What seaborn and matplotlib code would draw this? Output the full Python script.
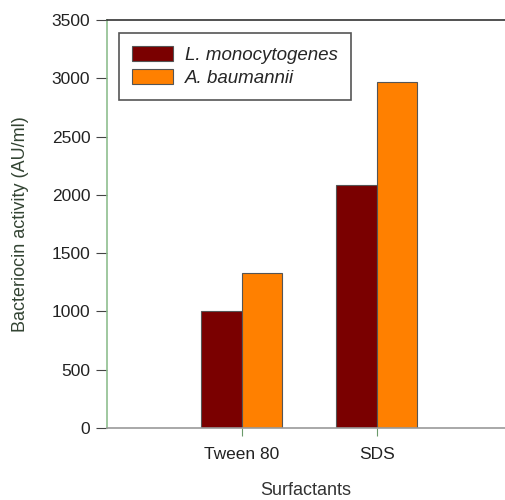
import pandas as pd
import seaborn as sns
import matplotlib.pyplot as plt

surfactants = ['Tween 80', 'SDS']
l_mono = [1000, 2085]
a_baum = [1330, 2970]
series = ['L. monocytogenes', 'A. baumannii']

df = pd.DataFrame({
    'surfactant': surfactants * 2,
    'strain': [series[0]] * 2 + [series[1]] * 2,
    'activity': l_mono + a_baum,
})

sns.set_style('white')
plt.rcParams['font.family'] = ['Liberation Sans', 'DejaVu Sans']

fig = plt.figure(figsize=(5.05, 5.0), dpi=100)
ax = fig.add_axes([107 / 505, 72 / 500, 398 / 505, 408 / 500])

sns.barplot(data=df, x='surfactant', y='activity', hue='strain',
            order=[''] + surfactants, hue_order=series,
            palette=['#7a0000', '#ff8000'], saturation=1, width=0.6,
            edgecolor='#555555', linewidth=0.8, ax=ax)

ax.set_xlim(0, 2.95)
ax.set_ylim(0, 3500)
ax.set_yticks(range(0, 3501, 500))
ax.set_xticks([1, 2])
ax.set_xticklabels(surfactants)
ax.tick_params(axis='y', labelsize=12.5, labelcolor='#222222', length=8,
               width=0.8, color='#444444', left=True, pad=4)
ax.tick_params(axis='x', labelsize=12.5, labelcolor='#222222', length=6,
               width=0.8, color='#6a9a6a', bottom=True, pad=8)

ax.spines['right'].set_visible(False)
ax.spines['top'].set_color('#333333')
ax.spines['top'].set_linewidth(1.2)
ax.spines['bottom'].set_color('#999999')
ax.spines['bottom'].set_linewidth(1.2)
ax.spines['left'].set_color('#8fbf8f')
ax.spines['left'].set_linewidth(1.2)

ax.set_xlabel('Surfactants', fontsize=13, color='#333333', labelpad=14)
ax.set_ylabel('Bacteriocin activity (AU/ml)', fontsize=13, color='#334433', labelpad=16)

leg = ax.legend(loc='upper left', bbox_to_anchor=(0.03, 0.968), frameon=True,
                fancybox=False, edgecolor='#555555',
                prop={'style': 'italic', 'size': 13.5}, handlelength=2.2,
                handleheight=0.8, handletextpad=0.6, borderpad=0.7,
                labelspacing=0.3, framealpha=1, borderaxespad=0)
leg.get_frame().set_linewidth(1.2)

fig.savefig('out.png', dpi=100)
